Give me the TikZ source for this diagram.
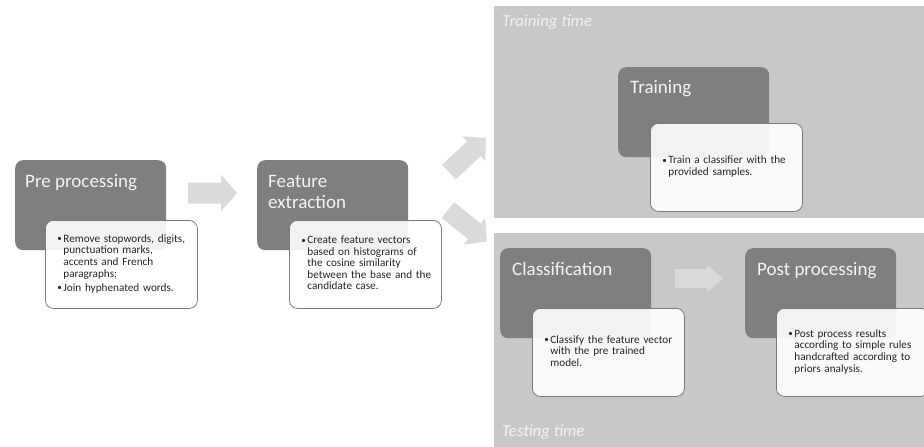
\documentclass[tikz,border=0pt]{standalone}
\usepackage{fontspec}
\setmainfont{Carlito}
\definecolor{dkgray}{HTML}{7F7F7F}
\definecolor{panelgray}{HTML}{C8C8C8}
\definecolor{arrowgray}{HTML}{DADADA}
\definecolor{bordercol}{HTML}{7A7A7A}
\definecolor{titlecol}{HTML}{F4F4F4}
\definecolor{labelcol}{HTML}{F2F2F2}
\newcommand{\bitem}[1]{\hspace*{6pt}\makebox[6pt][l]{\raisebox{0.5pt}{\fontsize{9}{9}\selectfont•}}\begin{tabular}[t]{@{}l@{}}#1\end{tabular}}
\tikzset{
  panel/.style={fill=panelgray, draw=none},
  darkbox/.style={fill=dkgray, rounded corners=8pt, minimum width=151pt, minimum height=90pt, inner sep=0pt, anchor=north west},
  titletext/.style={anchor=base west, text=titlecol, font=\fontsize{19}{21}\selectfont, inner sep=0pt, align=left},
  notebox/.style={draw=bordercol, line width=0.8pt, fill=white, fill opacity=0.9, text opacity=1,
    rounded corners=8pt, minimum width=152pt, minimum height=88pt, text width=140pt, inner xsep=6pt,
    inner ysep=0pt, anchor=north west, font=\fontsize{11.2}{11.6}\selectfont, align=left, text=black!85},
  paneltext/.style={anchor=base west, text=labelcol, font=\itshape\fontsize{16.8}{19}\selectfont, inner sep=0pt},
  pics/barrow/.style args={#1/#2/#3}{code={
    \fill[arrowgray] (0,-#2) -- (#1-16,-#2) -- (#1-16,-#3) -- (#1,0) -- (#1-16,#3) -- (#1-16,#2) -- (0,#2) -- cycle;}}
}
\renewcommand{\arraystretch}{1}
\begin{document}
\begin{tikzpicture}[x=1pt,y=-1pt]
\useasboundingbox (0,0) rectangle (924,447);
% panels
\node[panel, anchor=north west, minimum width=430pt, minimum height=212pt, inner sep=0pt] (trainpanel) at (494,6) {};
\node[panel, anchor=north west, minimum width=430pt, minimum height=214pt, inner sep=0pt] (testpanel) at (494,233) {};
\node[paneltext] (trainlbl) at (502,26) {Training time};
\node[paneltext] (testlbl) at (502,436) {Testing time};
% arrows
\pic (a1) at (188,193) {barrow={49/10.5/18.5}};
\pic[rotate=43] (a2) at (449,172) {barrow={50/10/17}};
\pic[rotate=-39] (a3) at (448,210) {barrow={50/10/17}};
\pic (a4) at (675,278.5) {barrow={48/9.5/13.5}};
% dark boxes
\node[darkbox] (pre) at (15,160) {};
\node[darkbox] (feat) at (257,160) {};
\node[darkbox] (train) at (618,67) {};
\node[darkbox] (cls) at (500,248) {};
\node[darkbox] (post) at (745,248) {};
% titles
\node[titletext] (pret) at (25,187) {Pre processing};
\node[titletext] (featt) at (268,208) {Feature\\extraction};
\node[titletext] (traint) at (630,93) {Training};
\node[titletext] (clst) at (512,275) {Classification};
\node[titletext] (postt) at (757,275) {Post processing};
% note boxes
\node[notebox] (pren) at (45,220) {\bitem{Remove stopwords, digits,\\ punctuation marks,\\ accents and French\\ paragraphs;}\\[1.5pt]\bitem{Join hyphenated words.}};
\node[notebox] (featn) at (289,220) {\bitem{Create feature vectors\\ based on histograms of\\ the cosine similarity\\ between the base and the\\ candidate case.}};
\node[notebox] (trainn) at (650,123) {\bitem{Train a classifier with the\\ provided samples.}};
\node[notebox] (clsn) at (532,308) {\bitem{Classify the feature vector\\ with the pre trained\\ model.}};
\node[notebox] (postn) at (776,308) {\bitem{Post process results\\ according to simple rules\\ handcrafted according to\\ priors analysis.}};
\end{tikzpicture}
\end{document}
